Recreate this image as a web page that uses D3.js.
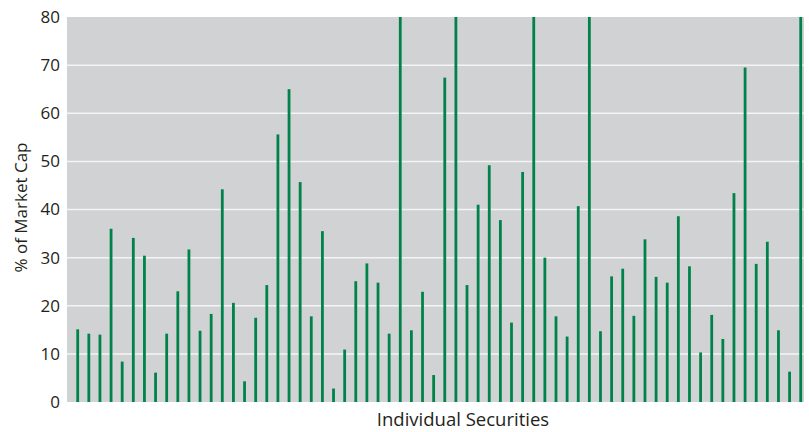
<!DOCTYPE html>
<html>
<head>
<meta charset="utf-8">
<script src="https://cdn.jsdelivr.net/npm/d3@7"></script>
<style>
  body { margin: 0; background: #fff; }
  text { font-family: "Open Sans", "Noto Sans", sans-serif; fill: #231f20; }
</style>
</head>
<body>
<svg id="chart" width="809" height="432"></svg>
<script>
// % of market cap per security (bars reaching 80 are cut off at the top)
var values = [15.1, 14.2, 14.0, 36.0, 8.4, 34.1, 30.4, 6.1, 14.2, 23.0,
    31.7, 14.8, 18.3, 44.2, 20.6, 4.3, 17.5, 24.3, 55.6, 65.0,
    45.7, 17.8, 35.5, 2.8, 10.9, 25.1, 28.8, 24.8, 14.2, 80,
    14.9, 22.9, 5.6, 67.4, 80, 24.3, 41.0, 49.2, 37.8, 16.5,
    47.8, 80, 30.0, 17.8, 13.6, 40.7, 80, 14.7, 26.1, 27.7,
    17.9, 33.8, 26.0, 24.8, 38.6, 28.2, 10.3, 18.1, 13.1, 43.4,
    69.5, 28.7, 33.3, 14.9, 6.3, 80];
var yTicks = [0, 10, 20, 30, 40, 50, 60, 70, 80];
var yLabel = "% of Market Cap";
var xLabel = "Individual Securities";

var svg = d3.select("#chart");
var margin = {left: 67, right: 5, top: 17, bottom: 30};
var width = 809 - margin.left - margin.right;
var height = 432 - margin.top - margin.bottom;

var g = svg.append("g").attr("transform", `translate(${margin.left},${margin.top})`);

// x position for each security
var x = d3.scaleLinear()
    .domain([0, values.length - 1])
    .range([10.7, width - 3.3]);

var y = d3.scaleLinear().domain([0, 80]).range([height, 0]);

// gray plot background
g.append("rect")
    .attr("width", width)
    .attr("height", height)
    .attr("fill", "#d1d2d4");

// white gridlines
g.selectAll(".grid")
    .data(yTicks.filter(d => d > 0 && d < 80))
    .enter().append("line")
    .attr("class", "grid")
    .attr("x1", 0).attr("x2", width)
    .attr("y1", d => y(d)).attr("y2", d => y(d))
    .attr("stroke", "#f4f4f4")
    .attr("stroke-width", 1.5);

// bars as thin vertical lines
g.selectAll(".bar")
    .data(values)
    .enter().append("rect")
    .attr("class", "bar")
    .attr("x", (d, i) => x(i) - 1.4)
    .attr("width", 2.8)
    .attr("y", d => y(Math.min(d, 80)))
    .attr("height", d => height - y(Math.min(d, 80)))
    .attr("fill", "#00834a");

// y axis tick labels
var yAxis = d3.axisLeft(y).tickValues(yTicks).tickSize(0).tickPadding(7);
g.append("g")
    .call(yAxis)
    .call(a => a.select(".domain").remove())
    .selectAll("text")
    .style("font-size", "17px")
    .style("font-family", "'Open Sans', sans-serif")
    .attr("fill", "#231f20");

svg.append("text")
    .attr("transform", `translate(27,${margin.top + height / 2 - 2}) rotate(-90)`)
    .attr("text-anchor", "middle")
    .style("font-size", "17px")
    .text(yLabel);

svg.append("text")
    .attr("x", 463)
    .attr("y", 426)
    .attr("text-anchor", "middle")
    .style("font-size", "18.5px")
    .text(xLabel);
</script>
</body>
</html>
